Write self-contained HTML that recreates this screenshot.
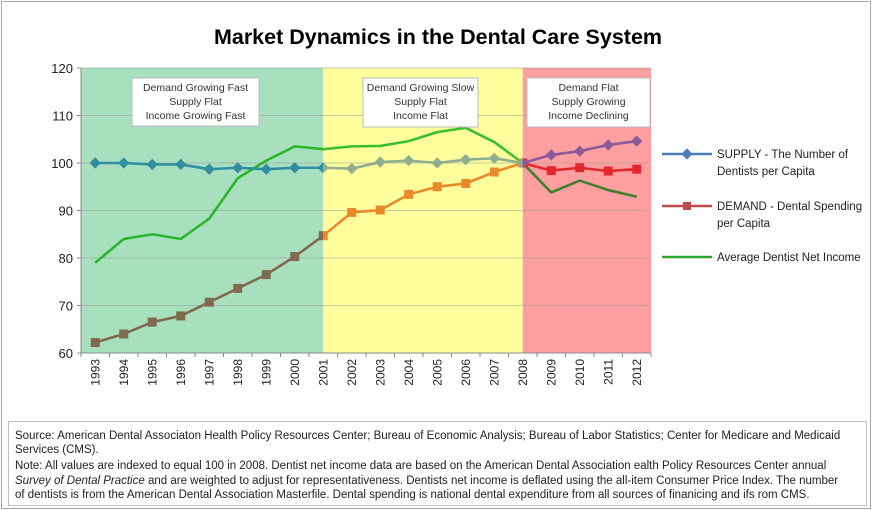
<!DOCTYPE html>
<html><head><meta charset="utf-8"><style>
body{margin:0;background:#fff;font-family:"Liberation Sans",sans-serif}
svg{display:block}
</style></head><body>
<svg width="872" height="510" xmlns="http://www.w3.org/2000/svg">
<rect x="1.5" y="1.5" width="869" height="507" fill="#fff" stroke="#a6a6a6"/>
<text x="438" y="44" text-anchor="middle" font-size="21.5" font-weight="bold" fill="#000">Market Dynamics in the Dental Care System</text>
<g id="bg"></g><g id="grid"></g><g id="series"></g><g id="boxes"></g><g id="axes"></g>
<g font-size="11.5" fill="#222">
 <line x1="662" y1="154" x2="712" y2="154" stroke="#4a7ebb" stroke-width="2.5"/><rect x="683" y="150" width="8" height="8" fill="#4a7ebb" transform="rotate(45 687 154)"/>
 <text x="717" y="158">SUPPLY - The Number of</text><text x="717" y="175">Dentists per Capita</text>
 <line x1="662" y1="206" x2="712" y2="206" stroke="#be4b48" stroke-width="2.5"/><rect x="683" y="202" width="8" height="8" fill="#be4b48"/>
 <text x="717" y="210">DEMAND - Dental Spending</text><text x="717" y="227">per Capita</text>
 <line x1="662" y1="257" x2="712" y2="257" stroke="#2ea82e" stroke-width="2.5"/>
 <text x="717" y="261">Average Dentist Net Income</text>
</g>
<rect x="8.5" y="421.5" width="858" height="84" fill="none" stroke="#bfbfbf"/>
<g font-size="11.5" fill="#222">
<text x="15" y="439">Source: American Dental Associaton Health Policy Resources Center; Bureau of Economic Analysis;  Bureau of Labor Statistics; Center for Medicare and Medicaid</text>
<text x="15" y="453">Services (CMS).</text>
<text x="15" y="469">Note: All values are indexed to equal 100 in 2008. Dentist net income data are based on the American Dental Association ealth Policy Resources Center annual</text>
<text x="15" y="484"><tspan font-style="italic">Survey of Dental Practice</tspan> and are weighted to adjust for representativeness. Dentists net income is deflated using the all-item Consumer Price Index. The number</text>
<text x="15" y="498">of dentists is from the American Dental Association Masterfile. Dental spending is national dental expenditure from all sources of finanicing and ifs rom CMS.</text>
</g>
</svg>
<script>
const years=[1993,1994,1995,1996,1997,1998,1999,2000,2001,2002,2003,2004,2005,2006,2007,2008,2009,2010,2011,2012];
const supply=[100,100,99.7,99.7,98.7,99,98.7,99,99,98.8,100.2,100.5,100,100.7,101,100,101.7,102.5,103.8,104.6];
const demand=[62.2,64,66.5,67.8,70.7,73.6,76.5,80.3,84.7,89.6,90.1,93.4,95,95.7,98.1,100,98.4,99,98.3,98.7];
const income=[79,84,85,84,88.3,96.8,100.5,103.5,102.9,103.5,103.6,104.6,106.5,107.4,104.4,100,93.8,96.3,94.3,92.9];
const yTicks=[60,70,80,90,100,110,120];
const regions=[{from:1993,to:2001,color:"#a8e0bf",label:["Demand Growing Fast","Supply Flat","Income Growing Fast"]},
 {from:2001,to:2008,color:"#ffff9e",label:["Demand Growing Slow","Supply Flat","Income Flat"]},
 {from:2008,to:2012,color:"#ff9f9f",label:["Demand Flat","Supply Growing","Income Declining"]}];
const NS="http://www.w3.org/2000/svg";
const L=81,R=651,T=68,B=353;
const bw=(R-L)/years.length;
const x=i=>L+bw*(i+0.5);
const y=v=>B-(v-60)/60*(B-T);
function mk(tag,attrs,parent){const e=document.createElementNS(NS,tag);for(const k in attrs)e.setAttribute(k,attrs[k]);parent.appendChild(e);return e;}
const bg=document.getElementById('bg'),grid=document.getElementById('grid'),ser=document.getElementById('series'),boxes=document.getElementById('boxes'),axes=document.getElementById('axes');
regions.forEach((r,k)=>{
 const x0=k==0?L:x(years.indexOf(r.from)),x1=k==regions.length-1?R:x(years.indexOf(r.to));
 const rc=mk('rect',{x:x0,y:T,width:x1-x0,height:B-T,fill:r.color},bg);
 
 
 const cp=mk('clipPath',{id:'clip'+k},bg);mk('rect',{x:x0,y:0,width:x1-x0,height:510},cp);
});
yTicks.forEach(t=>{
 if(t>60){const g=mk('line',{x1:L,x2:R,y1:y(t),y2:y(t),stroke:'#999','stroke-opacity':0.55,'stroke-width':1},grid);
 
 }
 const tx=mk('text',{x:L-8,y:y(t)+5,'text-anchor':'end','font-size':13,fill:'#222'},axes);tx.textContent=t;
 
 
 mk('line',{x1:L-4,x2:L,y1:y(t),y2:y(t),stroke:'#888'},axes);
});
mk('line',{x1:L,x2:L,y1:T,y2:B,stroke:'#888'},axes);
mk('line',{x1:L,x2:R,y1:B,y2:B,stroke:'#888'},axes);
years.forEach((yr,i)=>{
 mk('line',{x1:L+bw*i,x2:L+bw*i,y1:B,y2:B+4,stroke:'#888'},axes);
 const tx=mk('text',{x:0,y:0,'text-anchor':'end','font-size':12,fill:'#222',transform:`translate(${x(i)+4},${B+6}) rotate(-90)`},axes);tx.textContent=yr;
 
 
});
mk('line',{x1:R,x2:R,y1:B,y2:B+4,stroke:'#888'},axes);
const sets=[
 {d:income,name:'income',cols:['#2bb52b','#3cbf2c','#3f7f2f'],m:null},
 {d:demand,name:'demand',cols:['#7f6a4e','#e88a2c','#e0282e'],m:'sq'},
 {d:supply,name:'supply',cols:['#2f8fa0','#8fae8e','#8a5b9a'],m:'di'}];
sets.forEach(s=>{
 regions.forEach((r,k)=>{
  const g=mk('g',{'clip-path':`url(#clip${k})`},ser);
  
  
  const pts=s.d.map((v,i)=>x(i)+','+y(v)).join(' ');
  mk('polyline',{points:pts,fill:'none',stroke:s.cols[k],'stroke-width':2.6,'stroke-linejoin':'round'},g);
  s.d.forEach((v,i)=>{
   if(!s.m)return;
   let e;
   if(s.m==='sq')e=mk('rect',{x:x(i)-4.5,y:y(v)-4.5,width:9,height:9,fill:s.cols[k]},g);
   else e=mk('rect',{x:x(i)-4,y:y(v)-4,width:8,height:8,fill:s.cols[k],transform:`rotate(45 ${x(i)} ${y(v)})`},g);
   
   
  });
 });
});
const boxPos=[[132,78,127,48],[363,78,115,49],[527,78,123,49]];
regions.forEach((r,k)=>{
 const [bx,by,bwid,bh]=boxPos[k];
 const b=mk('rect',{x:bx,y:by,width:bwid,height:bh,fill:'#fff',stroke:'#bbb'},boxes);
 
 
 r.label.forEach((t,j)=>{const tx=mk('text',{x:bx+bwid/2,y:by+13+j*14,'text-anchor':'middle','font-size':10.5,fill:'#333'},boxes);tx.textContent=t;
  
  });
});
</script>
</body></html>
